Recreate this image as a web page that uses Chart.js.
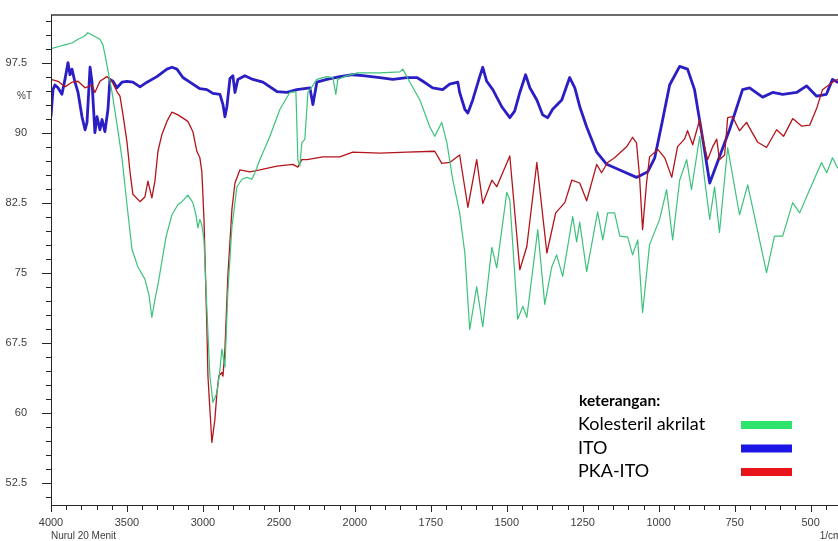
<!DOCTYPE html>
<html>
<head>
<meta charset="utf-8">
<script src="https://cdn.jsdelivr.net/npm/chart.js@4"></script>
<style>
  html, body { margin: 0; padding: 0; background: #fff; overflow: hidden; }
  #wrap { position: relative; width: 860px; height: 541px; }
</style>
</head>
<body>
<div id="wrap"><canvas id="ftir"></canvas></div>
<script>
// FTIR overlay: Kolesteril akrilat / ITO / PKA-ITO
// wavenumber axis is compressed 2x above 2000 1/cm (instrument style)

// ── Data (wavenumber 1/cm, %T) ───────────────────────────────────
const greenWn = [4000,3954,3908,3862,3822,3783,3757,3724,3678,3658,3638,3599,3566,3533,3500,3467,3428,3382,3355,3336,
  3316,3296,3270,3243,3204,3164,3138,3099,3066,3046,3033,3020,3007,2993,2974,2954,2934,2908,2888,2875,
  2855,2836,2809,2776,2743,2710,2678,2658,2625,2559,2493,2428,2388,2375,2362,2349,2329,2309,2283,2250,
  2184,2145,2125,2112,2053,2000,1993,1918,1852,1842,1819,1786,1753,1737,1714,1697,1678,1655,1638,1622,
  1599,1579,1549,1533,1500,1490,1464,1447,1434,1398,1375,1352,1336,1316,1283,1270,1260,1237,1201,1184,
  1168,1145,1128,1102,1086,1069,1053,1030,997,974,954,931,908,892,865,849,832,816,800,773,
  734,707,645,619,592,559,536,503,464,447,428,411,401];
const greenT = [99.0,99.2,99.4,99.6,100.0,100.3,100.7,100.4,100.0,99.4,97.8,94.4,90.9,87.3,82.3,77.5,75.6,74.3,72.6,70.2,
  72.1,73.7,76.2,78.8,81.2,82.3,82.6,83.3,82.5,81.2,79.8,80.7,80.1,78.5,71.1,63.9,61.1,62.1,64.6,66.8,
  64.9,72.9,79.9,84.2,85.0,85.2,85.0,85.7,87.1,89.6,92.5,94.3,94.4,87.1,86.4,88.9,89.3,94.3,94.9,95.7,
  96.0,95.9,94.1,95.7,96.1,96.3,96.4,96.4,96.5,96.8,95.4,93.5,90.6,89.6,91.1,88.9,85.0,81.4,77.1,68.9,
  73.5,69.2,77.7,75.5,83.6,82.8,70.0,71.4,70.2,79.6,71.6,75.6,76.9,74.6,81.0,78.3,80.4,75.1,81.5,78.5,
  81.4,81.4,78.9,78.8,76.9,78.5,70.7,78.0,80.7,83.9,78.5,84.9,87.1,83.9,89.6,85.0,80.7,84.2,79.3,88.4,
  81.2,84.4,75.0,78.9,78.9,82.5,81.4,83.9,86.8,85.7,87.3,86.2,86.6];

const blueWn = [4000,3987,3974,3954,3928,3908,3888,3875,3862,3842,3822,3796,3776,3763,3743,3730,3711,3697,3678,3664,
  3645,3625,3612,3592,3566,3533,3500,3461,3414,3368,3303,3237,3204,3171,3132,3086,3020,2974,2934,2888,
  2868,2855,2842,2822,2803,2789,2770,2724,2671,2605,2513,2447,2382,2296,2276,2250,2184,2099,2013,1974,
  1918,1875,1829,1796,1776,1744,1711,1688,1661,1655,1638,1628,1612,1589,1579,1566,1546,1517,1490,1474,
  1457,1438,1424,1401,1382,1365,1349,1319,1293,1276,1260,1237,1204,1171,1128,1073,1036,1013,990,964,
  931,905,882,855,832,809,767,724,701,658,625,592,546,513,480,448,428,411,401];
const blueT = [91.7,94.6,95.1,94.8,94.1,95.7,97.5,96.2,96.8,95.4,94.3,91.7,90.3,91.1,97.0,95.4,90.0,91.7,90.3,91.4,
  90.1,92.5,95.7,95.5,94.8,95.4,95.5,95.4,94.9,95.4,96.0,96.8,97.0,96.8,95.9,95.4,94.7,94.6,94.2,94.1,
  93.0,91.7,92.8,95.8,96.1,94.3,95.7,96.1,95.7,95.4,94.4,94.3,94.6,94.8,93.0,95.4,95.7,96.0,96.2,96.1,
  95.9,95.7,95.9,95.9,95.5,94.8,94.6,95.2,95.4,94.3,92.5,92.1,93.5,96.0,97.0,95.5,94.6,92.8,91.6,92.3,
  94.3,96.2,94.8,93.5,91.9,91.6,92.5,93.5,95.9,94.8,92.8,90.6,87.9,86.6,86.0,85.2,85.8,87.3,90.9,95.1,
  97.1,96.8,94.6,89.3,84.6,86.6,90.3,94.6,94.8,93.8,94.3,94.1,94.3,95.0,93.9,94.1,95.7,95.4,95.5];

const redWn = [4000,3954,3908,3862,3822,3776,3730,3711,3678,3632,3599,3566,3546,3526,3500,3480,3461,3414,3382,3362,
  3336,3316,3296,3270,3237,3204,3164,3099,3066,3040,3020,3007,2993,2974,2967,2954,2941,2921,2908,2895,
  2875,2868,2855,2836,2809,2789,2757,2691,2625,2513,2408,2375,2349,2316,2210,2099,2013,1918,1829,1737,
  1714,1688,1655,1628,1599,1579,1549,1533,1490,1457,1434,1401,1368,1339,1309,1286,1260,1237,1204,1188,
  1168,1145,1105,1086,1073,1063,1053,1040,1030,1003,980,957,938,915,905,888,865,855,839,822,
  809,800,783,773,757,734,711,675,645,612,589,559,530,503,480,461,428,411,401];
const redT = [95.7,95.5,94.9,95.4,95.5,94.8,95.1,94.3,95.5,96.0,95.5,94.4,93.9,91.9,89.0,85.8,83.4,82.6,83.1,84.8,
  83.0,84.8,88.0,89.8,91.2,92.2,91.9,91.2,90.1,88.0,87.3,85.8,80.7,69.2,63.9,60.3,56.8,59.3,62.1,63.9,
  64.3,63.9,66.8,74.6,81.8,84.6,86.0,85.8,86.0,86.4,86.6,86.3,87.1,87.1,87.4,87.4,87.9,87.8,87.9,88.0,
  86.7,86.8,87.6,82.0,87.1,82.4,84.9,84.2,87.5,75.3,77.8,86.8,77.1,81.4,82.5,84.9,84.6,82.7,86.6,85.7,
  86.8,87.3,88.5,89.5,88.9,85.3,79.6,84.6,87.4,88.2,87.3,85.2,88.5,89.3,90.2,88.7,91.4,89.3,87.1,88.5,
  89.3,87.1,87.6,91.6,91.7,90.2,91.1,89.0,88.4,90.3,89.6,91.5,90.7,90.8,92.6,94.6,95.4,95.7,95.8];

const seriesNames = ['Kolesteril akrilat', 'ITO', 'PKA-ITO'];
const lineColors  = ['#3cc27c', '#2a1ec4', '#b3141a'];
const keyColors   = ['#2ee46c', '#1c16e4', '#e8141c'];

const WN_MIN = 400, WN_MAX = 4000, WN_BREAK = 2000;
const T_MIN = 50.1, T_MAX = 102.6, T_STEP = 1.5, T_LABEL_STEP = 7.5;
const UNIT_LABEL_AT = 93.9;   // where "%T" sits on the y axis

const isMajorT  = v => Math.abs(v / T_LABEL_STEP - Math.round(v / T_LABEL_STEP)) < 1e-6;
const isMajorWn = v => v >= WN_BREAK ? v % 500 === 0 : v % 250 === 0;
const toXY = (wn, t) => wn.map((w, i) => ({ x: w, y: t[i] }));

// ── Wavenumber scale with the 2000 1/cm break ─────────────────────
class WavenumberScale extends Chart.LinearScale {
  static id = 'wavenumber';
  static defaults = {};
  determineDataLimits() {
    this.min = this.options.min;
    this.max = this.options.max;
  }
  buildTicks() {
    const ticks = [];
    for (let v = this.max; v > WN_BREAK; v -= 100) ticks.push({ value: v });
    for (let v = WN_BREAK; v >= this.min; v -= 50) ticks.push({ value: v });
    return ticks;
  }
  pos(v) {
    return v >= WN_BREAK ? (this.max - v) / 2 : (this.max - WN_BREAK) / 2 + (WN_BREAK - v);
  }
  getPixelForValue(v) {
    return this.getPixelForDecimal(this.pos(v) / this.pos(this.min));
  }
  getValueForPixel(px) {
    const p = this.getDecimalForPixel(px) * this.pos(this.min);
    const brk = (this.max - WN_BREAK) / 2;
    return p <= brk ? this.max - 2 * p : WN_BREAK - (p - brk);
  }
}
Chart.register(WavenumberScale);

// %T ticks every 1.5, labelled every 7.5
function transmittanceTicks(scale) {
  const ticks = [];
  for (let k = Math.ceil(T_MIN / T_STEP); k * T_STEP <= T_MAX; k++) {
    ticks.push({ value: Math.round(k * T_STEP * 10) / 10 });
  }
  scale.ticks = ticks;
}

// ── Frame, tick marks and small captions ──────────────────────────
const framePlugin = {
  id: 'frame',
  afterDraw(chart) {
    const { ctx, chartArea: a, scales: { x, y } } = chart;
    ctx.save();
    ctx.strokeStyle = '#6c6c6c';
    ctx.lineWidth = 2;
    ctx.beginPath(); ctx.moveTo(a.left, a.top); ctx.lineTo(a.right, a.top); ctx.stroke();

    ctx.strokeStyle = '#262626';
    ctx.lineWidth = 1;
    ctx.beginPath();
    ctx.moveTo(a.left + 0.5, a.top);
    ctx.lineTo(a.left + 0.5, a.bottom + 0.5);
    ctx.lineTo(a.right, a.bottom + 0.5);
    y.ticks.forEach(t => {
      const py = Math.round(y.getPixelForValue(t.value)) + 0.5;
      const len = isMajorT(t.value) ? 9 : 5;
      ctx.moveTo(a.left - len, py); ctx.lineTo(a.left, py);
    });
    x.ticks.forEach(t => {
      const px = Math.round(x.getPixelForValue(t.value)) + 0.5;
      const len = isMajorWn(t.value) ? 7 : 5;
      ctx.moveTo(px, a.bottom); ctx.lineTo(px, a.bottom + len);
    });
    ctx.stroke();

    ctx.fillStyle = '#3c3c3c';
    ctx.font = '10px "Liberation Sans", Arial, sans-serif';
    ctx.textAlign = 'right';
    ctx.textBaseline = 'middle';
    ctx.fillText('%T', a.left - 19, y.getPixelForValue(UNIT_LABEL_AT));
    ctx.textAlign = 'left';
    ctx.fillText('Nurul 20 Menit', a.left, a.bottom + 31);
    ctx.fillText('1/cm', x.getPixelForValue(470), a.bottom + 31);
    ctx.restore();
  }
};

// ── "keterangan" key, drawn as in the original figure ─────────────
const keyPlugin = {
  id: 'keterangan',
  afterDraw(chart) {
    const { ctx } = chart;
    ctx.save();
    ctx.fillStyle = '#000';
    ctx.textAlign = 'left';
    ctx.textBaseline = 'alphabetic';
    ctx.font = 'bold 15.5px Lato, sans-serif';
    ctx.fillText('keterangan:', 579, 406);
    ctx.font = '18px Lato, sans-serif';
    seriesNames.forEach((name, i) => {
      const base = 430 + i * 23.5;
      ctx.fillText(name, 578, base);
      ctx.fillStyle = keyColors[i];
      ctx.fillRect(741, base - 9, 51, 8);
      ctx.fillStyle = '#000';
    });
    ctx.restore();
  }
};

const lineDs = (i, wn, t, width) => ({
  label: seriesNames[i],
  data: toXY(wn, t),
  borderColor: lineColors[i],
  borderWidth: width,
  pointRadius: 0,
  tension: 0,
  borderJoinStyle: 'round',
  fill: false,
});

new Chart(document.getElementById('ftir'), {
  type: 'line',
  data: {
    datasets: [
      lineDs(0, greenWn, greenT, 1.2),
      lineDs(2, redWn, redT, 1.3),
      lineDs(1, blueWn, blueT, 2.8),
    ]
  },
  options: {
    responsive: true,
    maintainAspectRatio: false,
    animation: false,
    layout: { padding: { left: 0, top: 15, right: 19, bottom: 0 } },
    plugins: { legend: { display: false }, tooltip: { enabled: false } },
    scales: {
      x: {
        type: 'wavenumber',
        min: WN_MIN, max: WN_MAX,
        grid: { display: false },
        border: { display: false },
        afterFit: s => { s.height = 36; },
        ticks: {
          autoSkip: false, maxRotation: 0, padding: 3,
          color: '#3c3c3c',
          font: { family: '"Liberation Sans", Arial, sans-serif', size: 11 },
          callback: v => isMajorWn(v) ? String(v) : '',
        }
      },
      y: {
        min: T_MIN, max: T_MAX,
        grid: { display: false },
        border: { display: false },
        afterFit: s => { s.width = 51; s.paddingTop = 0; s.paddingBottom = 0; },
        afterBuildTicks: transmittanceTicks,
        ticks: {
          autoSkip: false, padding: 16,
          color: '#3c3c3c',
          font: { family: '"Liberation Sans", Arial, sans-serif', size: 11 },
          callback: v => isMajorT(v) ? String(v) : '',
        }
      }
    }
  },
  plugins: [framePlugin, keyPlugin]
});
</script>
</body>
</html>
